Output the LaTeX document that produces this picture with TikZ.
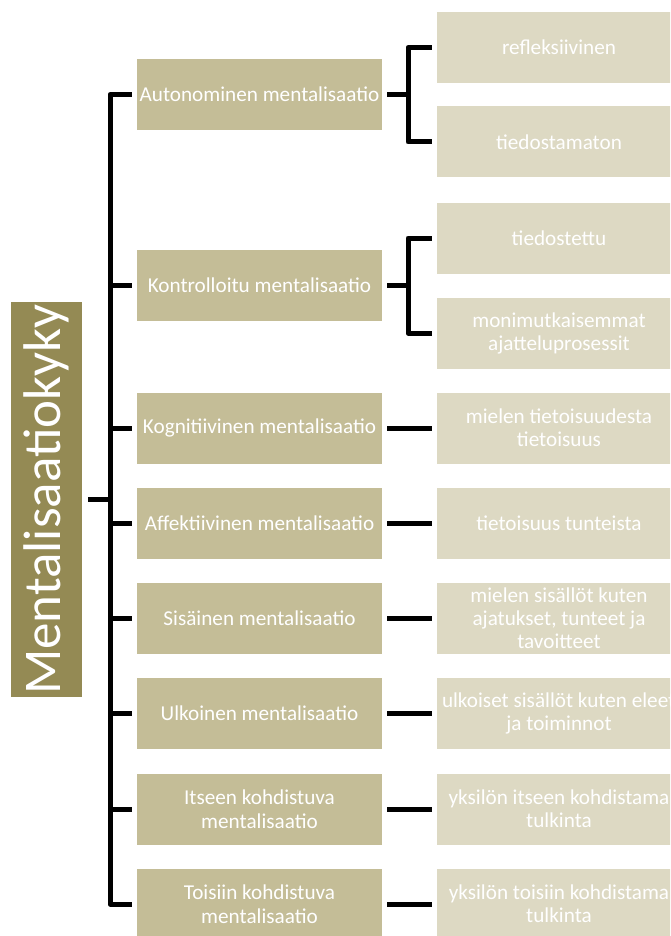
\documentclass[tikz,border=0pt]{standalone}
\usepackage{fontspec}
\usepackage{graphicx}
\setmainfont{Carlito}
\definecolor{rootfill}{HTML}{948A54}
\definecolor{midfill}{HTML}{C4BD97}
\definecolor{leaffill}{HTML}{DDD9C3}
\tikzset{
  rootbox/.style={fill=rootfill, text=white, inner sep=0pt,
    minimum width=71pt, minimum height=395pt},
  midbox/.style={fill=midfill, text=white, inner sep=0pt,
    align=center, minimum width=245pt, minimum height=71pt,
    font=\fontsize{21.2}{23.5}\selectfont},
  leafbox/.style={fill=leaffill, text=white, inner xsep=5pt, inner ysep=0pt,
    align=center, minimum width=244pt, minimum height=71pt,
    font=\fontsize{21.2}{23}\selectfont},
  conn/.style={draw=black, line width=5pt, line join=round}
}
\begin{document}
\begin{tikzpicture}[x=1pt, y=-1pt]
\clip (0,0) rectangle (670,936);
\fill[white] (0,0) rectangle (670,936);

% root concept
\node[rootbox] (root) at (46.5,499.5)
  {\rotatebox{90}{\fontsize{53}{58}\selectfont Mentalisaatiokyky}};

% second level
\node[midbox] (m1) at (259.5,94.5) {Autonominen mentalisaatio};
\node[midbox] (m2) at (259.5,285.5) {Kontrolloitu mentalisaatio};
\node[midbox] (m3) at (259.5,428) {Kognitiivinen mentalisaatio};
\node[midbox] (m4) at (259.5,523.5) {Affektiivinen mentalisaatio};
\node[midbox] (m5) at (259.5,618.5) {Sisäinen mentalisaatio};
\node[midbox] (m6) at (259.5,713.5) {Ulkoinen mentalisaatio};
\node[midbox] (m7) at (259.5,809) {Itseen kohdistuva\\mentalisaatio};
\node[midbox] (m8) at (259.5,904) {Toisiin kohdistuva\\mentalisaatio};

% third level
\node[leafbox] (r1) at (559,47.5) {refleksiivinen};
\node[leafbox] (r2) at (559,142) {tiedostamaton};
\node[leafbox] (r3) at (559,238) {tiedostettu};
\node[leafbox] (r4) at (559,333) {monimutkaisemmat\\ajatteluprosessit};
\node[leafbox] (r5) at (559,428) {mielen tietoisuudesta\\tietoisuus};
\node[leafbox] (r6) at (559,523.5) {tietoisuus tunteista};
\node[leafbox] (r7) at (559,618.5) {mielen sisällöt kuten\\ajatukset, tunteet ja\\tavoitteet};
\node[leafbox] (r8) at (559,713.5)
  {\makebox[234pt][l]{ulkoiset sisällöt kuten eleet}\\ja toiminnot};
\node[leafbox] (r9) at (559,809) {yksilön itseen kohdistama\\tulkinta};
\node[leafbox] (r10) at (559,904) {yksilön toisiin kohdistama\\tulkinta};

% trunk and bracket columns
\coordinate (tx) at (110,0);
\coordinate (bx) at (408,0);

% left-hand tree
\draw[conn] ([xshift=6pt]root.east) -- (tx |- root.east);
\draw[conn] ([xshift=-5pt]m1.west) -| (tx |- m8.west) -- ([xshift=-5pt]m8.west);
\foreach \m in {m2,m3,m4,m5,m6,m7}
  \draw[conn] ([xshift=-5pt]\m.west) -- (tx |- \m.west);

% brackets for the first two concepts
\draw[conn] ([xshift=5pt]m1.east) -- (bx |- m1.east);
\draw[conn] ([xshift=-5pt]r1.west) -| (bx |- r2.west) -- ([xshift=-5pt]r2.west);
\draw[conn] ([xshift=5pt]m2.east) -- (bx |- m2.east);
\draw[conn] ([xshift=-5pt]r3.west) -| (bx |- r4.west) -- ([xshift=-5pt]r4.west);

% one-to-one links
\draw[conn] ([xshift=5pt]m3.east) -- ([xshift=-5pt]r5.west);
\draw[conn] ([xshift=5pt]m4.east) -- ([xshift=-5pt]r6.west);
\draw[conn] ([xshift=5pt]m5.east) -- ([xshift=-5pt]r7.west);
\draw[conn] ([xshift=5pt]m6.east) -- ([xshift=-5pt]r8.west);
\draw[conn] ([xshift=5pt]m7.east) -- ([xshift=-5pt]r9.west);
\draw[conn] ([xshift=5pt]m8.east) -- ([xshift=-5pt]r10.west);
\end{tikzpicture}
\end{document}
